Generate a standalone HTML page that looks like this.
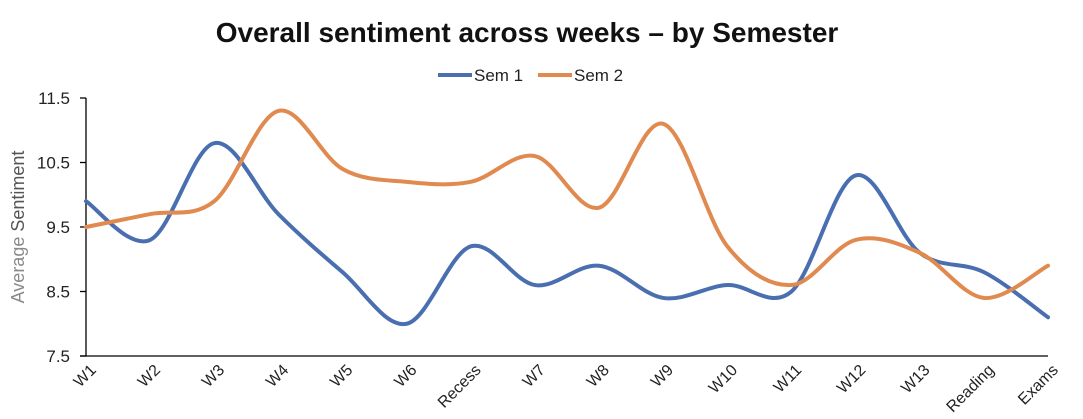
<!DOCTYPE html>
<html><head><meta charset="utf-8"><style>
body{margin:0;background:#fff;}
svg{display:block;font-family:"Liberation Sans",Arial,sans-serif;}
</style></head><body>
<svg width="1083" height="419" id="chart">
<text x="527" y="42" text-anchor="middle" font-size="28" font-weight="bold" fill="#111">Overall sentiment across weeks – by Semester</text>
<g>
<line x1="438" y1="75" x2="472" y2="75" stroke="#4a6fb0" stroke-width="4"/>
<text x="474" y="81" font-size="17" fill="#222">Sem 1</text>
<line x1="538" y1="75" x2="572" y2="75" stroke="#e08a50" stroke-width="4"/>
<text x="574" y="81" font-size="17" fill="#222">Sem 2</text>
</g>
<text transform="translate(24,227) rotate(-90)" text-anchor="middle" font-size="18"><tspan fill="#8a8a8a">Average </tspan><tspan fill="#555">Sentiment</tspan></text>
<g id="axes"></g>
<g id="series"></g>
</svg>
<script>
const categories=["W1","W2","W3","W4","W5","W6","Recess","W7","W8","W9","W10","W11","W12","W13","Reading","Exams"];
const sem1=[9.9,9.3,10.8,9.7,8.8,8.0,9.2,8.6,8.9,8.4,8.6,8.5,10.3,9.1,8.8,8.1];
const sem2=[9.5,9.7,9.9,11.3,10.4,10.2,10.2,10.6,9.8,11.1,9.2,8.6,9.3,9.1,8.4,8.9];
const yTicks=[7.5,8.5,9.5,10.5,11.5];
const NS="http://www.w3.org/2000/svg";
const X0=86,X1=1048,Y0=356,Y1=98,YMIN=7.5,YMAX=11.5;
function xs(i){return X0+i*(X1-X0)/(categories.length-1);}
function ys(v){return Y0-(v-YMIN)/(YMAX-YMIN)*(Y0-Y1);}
function mk(t,a,p){const e=document.createElementNS(NS,t);for(const k in a)e.setAttribute(k,a[k]);p.appendChild(e);return e;}
const ax=document.getElementById('axes');
const yl=mk('line',{x1:X0,y1:Y1,x2:X0,y2:Y0,stroke:'#000','stroke-width':1.3},ax);


const xl=mk('line',{x1:X0-6,y1:Y0,x2:X1,y2:Y0,stroke:'#000','stroke-width':1.3},ax);


yTicks.forEach(v=>{
 mk('line',{x1:X0-6,y1:ys(v),x2:X0,y2:ys(v),stroke:'#000','stroke-width':1.3},ax);
 const t=mk('text',{x:X0-16,y:ys(v)+6,'text-anchor':'end','font-size':17,fill:'#222'},ax);
 t.textContent=v.toFixed(1);
 
 
});
categories.forEach((c,i)=>{
 const x=xs(i)+11,y=Y0+15;
 const t=mk('text',{x:x,y:y,'text-anchor':'end','font-size':16,fill:'#222',transform:`rotate(-45 ${x} ${y})`},ax);
 t.textContent=c;
 
 
});
function path(vals){
 const p=vals.map((v,i)=>[xs(i),ys(v)]);
 let d=`M${p[0][0]},${p[0][1]}`;
 for(let i=0;i<p.length-1;i++){
  const a=p[Math.max(0,i-1)],b=p[i],c=p[i+1],e=p[Math.min(p.length-1,i+2)];
  const c1=[b[0]+(c[0]-a[0])/6,b[1]+(c[1]-a[1])/6],c2=[c[0]-(e[0]-b[0])/6,c[1]-(e[1]-b[1])/6];
  d+=` C${c1[0]},${c1[1]} ${c2[0]},${c2[1]} ${c[0]},${c[1]}`;
 }
 return d;
}
const sg=document.getElementById('series');
const l1=mk('path',{d:path(sem1),fill:'none',stroke:'#4a6fb0','stroke-width':4,'stroke-linecap':'round'},sg);


const l2=mk('path',{d:path(sem2),fill:'none',stroke:'#e08a50','stroke-width':4,'stroke-linecap':'round'},sg);


</script>
</body></html>
